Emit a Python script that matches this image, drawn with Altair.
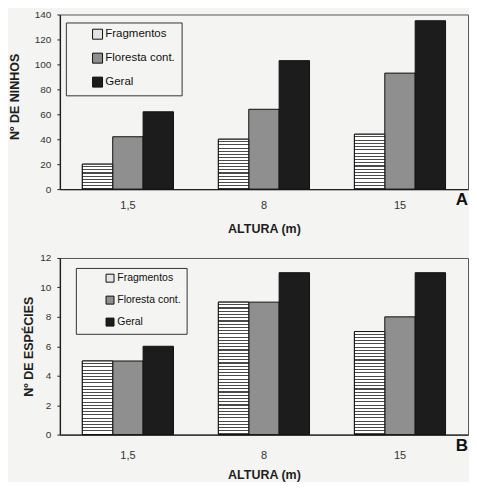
import altair as alt
import pandas as pd

# ---------------- data ----------------
alturas = ["1,5", "8", "15"]
series = ["Fragmentos", "Floresta cont.", "Geral"]

ninhos_frag = [20, 40, 44]
ninhos_flor = [42, 64, 93]
ninhos_geral = [62, 103, 135]

esp_frag = [5, 9, 7]
esp_flor = [5, 9, 8]
esp_geral = [6, 11, 11]

colors = ["#e4e4e4", "#8f8f8f", "#1c1c1c"]
BG = "#f4f4f2"
FONT = "Liberation Sans"
W = 409


def stripe_fill(n):
    stops = []
    for i in range(n):
        a = i / n
        b = (i + 0.66) / n
        c = (i + 1) / n
        stops += [
            {"offset": round(a, 5), "color": "#ffffff"},
            {"offset": round(b, 5), "color": "#ffffff"},
            {"offset": round(b, 5), "color": "#4a4a4a"},
            {"offset": round(min(c, 1.0), 5), "color": "#4a4a4a"},
        ]
    return {"gradient": "linear", "x1": 0, "y1": 0, "x2": 0, "y2": 1, "stops": stops}


def panel(frag, flor, geral, ymax, ystep, ytitle, height, letter, lx, ly,
          sym, lfs, rowpad, lpad, symoff, ytp, ytitle_y, xlp, xtp, letter_y):
    df = pd.DataFrame({
        "altura": alturas * 3,
        "serie": [s for s in series for _ in alturas],
        "valor": frag + flor + geral,
    })
    x = alt.X(
        "altura:N", sort=alturas, title="ALTURA (m)",
        scale=alt.Scale(domain=alturas, paddingInner=0.33, paddingOuter=0.165),
        axis=alt.Axis(labelAngle=0, ticks=False, labelPadding=xlp, titlePadding=xtp,
                      labelFontSize=11, titleFontSize=12.5, titleFontWeight="bold"),
    )
    xo = alt.XOffset("serie:N", sort=series,
                     scale=alt.Scale(domain=series, paddingInner=0, paddingOuter=0))
    yaxis = dict(values=list(range(0, ymax + 1, ystep)), grid=False, tickSize=3,
                 labelPadding=6, titlePadding=ytp, labelFontSize=10,
                 titleFontSize=12.5, titleFontWeight="bold")
    if ytitle_y is not None:
        yaxis["titleY"] = ytitle_y
    y = alt.Y(
        "valor:Q", title=ytitle,
        scale=alt.Scale(domain=[0, ymax], nice=False),
        axis=alt.Axis(**yaxis),
    )
    bars = alt.Chart(df).mark_bar(stroke="#111111", strokeWidth=1).encode(
        x=x, xOffset=xo, y=y,
        color=alt.Color(
            "serie:N",
            scale=alt.Scale(domain=series, range=colors),
            legend=alt.Legend(
                orient="none", legendX=lx, legendY=ly, title=None,
                symbolType="square", symbolSize=sym, symbolStrokeColor="#111111",
                symbolStrokeWidth=1, labelFont=FONT, labelFontSize=lfs,
                labelColor="#111111", strokeColor="#333333", padding=lpad,
                rowPadding=rowpad, symbolOffset=symoff, labelOffset=2,
            ),
        ),
    )
    pxu = height / ymax
    layers = [bars]
    for a, v in zip(alturas, frag):
        n = max(1, round(v * pxu / 3.2))
        layers.append(
            alt.Chart(df)
            .transform_filter((alt.datum.serie == "Fragmentos") & (alt.datum.altura == a))
            .mark_bar(fill=stripe_fill(n), stroke="#111111", strokeWidth=1)
            .encode(x=x, xOffset=xo, y=y)
        )
    lab = alt.Chart(pd.DataFrame({"t": [letter]})).mark_text(
        font=FONT, fontSize=17, fontWeight="bold", align="right", baseline="middle",
        color="#111111",
    ).encode(text="t:N", x=alt.value(W), y=alt.value(letter_y))
    layers.append(lab)
    return alt.layer(*layers).properties(width=W, height=height)


pa = panel(ninhos_frag, ninhos_flor, ninhos_geral, 140, 20, "Nº DE NINHOS", 175, "A",
           6, 8, 100, 11.5, 9, 6, 20, 12.5, 82, 10, 12, 186)
pb = panel(esp_frag, esp_flor, esp_geral, 12, 2, "Nº DE ESPÉCIES", 177, "B",
           16, 10, 64, 10.5, 9, 5, 24, 4.5, None, 15, 8, 188)

chart = (
    alt.vconcat(pa, pb, spacing=69, bounds="flush")
    .resolve_scale(color="independent")
    .resolve_legend(color="independent")
    .properties(background=BG, padding={"left": 0, "top": 0, "right": 0, "bottom": 0})
    .configure_view(stroke="#555555", strokeWidth=1, fill=BG)
    .configure_axis(
        labelFont=FONT, titleFont=FONT, labelColor="#333333", titleColor="#1e1e1e",
        domainColor="#222222", domainWidth=1.4, tickColor="#222222",
    )
)

chart.save("out.html", embed_options={"renderer": "svg", "actions": False})
